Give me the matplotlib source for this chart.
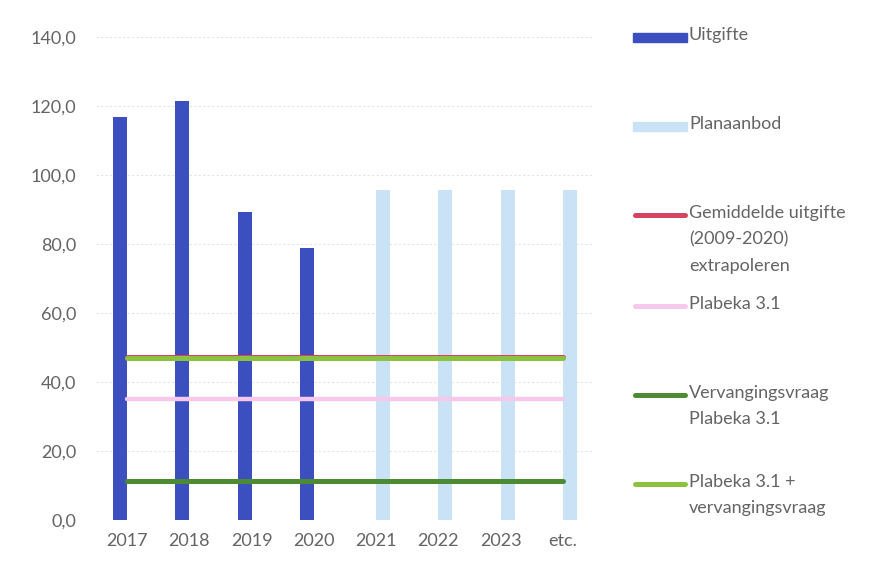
import numpy as np
import matplotlib.pyplot as plt
from matplotlib.lines import Line2D
from matplotlib.patches import Rectangle

plt.rcParams['font.family'] = ['Lato', 'DejaVu Sans']

# data
jaren = ['2017', '2018', '2019', '2020', '2021', '2022', '2023', 'etc.']
uitgifte = [116.8, 121.4, 89.3, 78.8, 0, 0, 0, 0]
planaanbod = [0, 0, 0, 0, 95.7, 95.7, 95.7, 95.7]
gemiddelde = 47.2
plabeka = 35.1
vervanging = 11.3
plabeka_verv = 46.9

c_uit = '#3b4fbf'
c_plan = '#c9e2f5'
c_gem = '#d2445f'
c_plab = '#f6c8ec'
c_verv = '#4c8a34'
c_pv = '#8cc23f'
grijs = '#646464'

fig = plt.figure(figsize=(8.93, 5.74), dpi=100)
ax = fig.add_axes([96 / 893, 1 - 520 / 574, 498 / 893, 483 / 574])

x = np.arange(len(jaren))
w = 0.225
ax.bar(x - w / 2, uitgifte, width=w, color=c_uit, zorder=2)
ax.bar(x + w / 2, planaanbod, width=w, color=c_plan, zorder=2)

ax.plot([x[0], x[-1]], [gemiddelde, gemiddelde], color=c_gem, lw=3.6, zorder=3, solid_capstyle='round')
ax.plot([x[0], x[-1]], [plabeka_verv, plabeka_verv], color=c_pv, lw=3.6, zorder=3, solid_capstyle='round')
ax.plot([x[0], x[-1]], [plabeka, plabeka], color=c_plab, lw=3.2, zorder=3, solid_capstyle='round')
ax.plot([x[0], x[-1]], [vervanging, vervanging], color=c_verv, lw=3.6, zorder=3, solid_capstyle='round')

ax.set_xlim(-0.5, len(jaren) - 0.5)
ax.set_ylim(0, 140)
ax.set_yticks(np.arange(0, 141, 20))
ax.set_yticklabels([f'{v:.1f}'.replace('.', ',') for v in np.arange(0, 141, 20)])
ax.set_xticks(x)
ax.set_xticklabels(jaren)
ax.tick_params(length=0, labelsize=13, colors=grijs)
ax.tick_params(axis='y', pad=14)
ax.tick_params(axis='x', pad=9)
ax.grid(axis='y', color='#e4e4e4', lw=0.8, ls=(0, (2, 2)), zorder=0)
for s in ax.spines.values():
    s.set_visible(False)

# legend, drawn by hand like the Excel one
items = [
    ('bar', c_uit, 'Uitgifte'),
    ('bar', c_plan, 'Planaanbod'),
    ('line', c_gem, 'Gemiddelde uitgifte\n(2009-2020)\nextrapoleren'),
    ('line', c_plab, 'Plabeka 3.1'),
    ('line', c_verv, 'Vervangingsvraag\nPlabeka 3.1'),
    ('line', c_pv, 'Plabeka 3.1 +\nvervangingsvraag'),
]
ys = [37, 126, 215, 306, 395, 484]
for (kind, col, lab), yp in zip(items, ys):
    yf = 1 - yp / 574
    if kind == 'bar':
        fig.patches.append(Rectangle((633 / 893, yf - 4.5 / 574), 54 / 893, 9 / 574,
                                     transform=fig.transFigure, color=col))
    else:
        fig.lines.append(Line2D([635 / 893, 685 / 893], [yf, yf], transform=fig.transFigure,
                                color=col, lw=3.6, solid_capstyle='round'))
    fig.text(689 / 893, yf + 10 / 574, lab, ha='left', va='top', fontsize=13,
             color=grijs, linespacing=1.78)

fig.savefig('out.png', dpi=100, facecolor='white')
